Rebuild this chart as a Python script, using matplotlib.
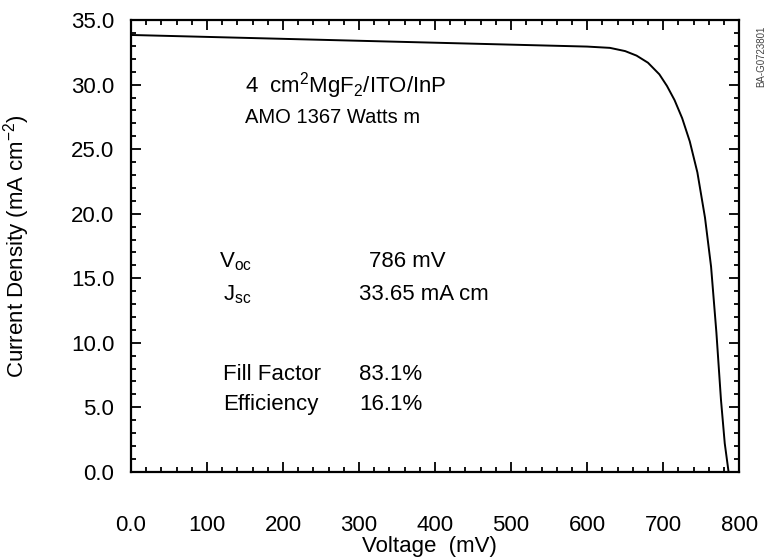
import numpy as np
import matplotlib.pyplot as plt
from matplotlib.ticker import MultipleLocator, FormatStrFormatter

plt.rcParams['font.family'] = ['Liberation Sans', 'DejaVu Sans']
plt.rcParams['mathtext.fontset'] = 'custom'
plt.rcParams['mathtext.rm'] = 'Liberation Sans'
plt.rcParams['mathtext.it'] = 'Liberation Sans'

# I-V curve (mV, mA/cm^2)
voltage = [0, 100, 200, 300, 400, 500, 600, 630, 650, 665, 680, 695,
           705, 715, 725, 735, 745, 755, 763, 770, 776, 781, 786]
current = [33.85, 33.7, 33.55, 33.4, 33.25, 33.1, 32.95, 32.85, 32.6, 32.25,
           31.7, 30.8, 29.9, 28.8, 27.4, 25.6, 23.2, 19.7, 15.9, 10.8,
           5.6, 2.2, 0.0]

x_ticks = [0, 100, 200, 300, 400, 500, 600, 700, 800]
x_tick_labels = ['0.0', '100', '200', '300', '400', '500', '600', '700', '800']

stat_names = ['V$_{oc}$', 'J$_{sc}$', 'Fill Factor', 'Efficiency']
stat_values = ['786 mV', '33.65 mA cm', '83.1%', '16.1%']

fig = plt.figure(figsize=(7.7, 5.59), dpi=100)
ax = fig.add_axes([0.170, 0.156, 0.790, 0.808])

ax.plot(voltage, current, color='black', lw=1.4)

ax.set_xlim(0, 800)
ax.set_ylim(0, 35)
ax.set_xticks(x_ticks)
ax.set_xticklabels(x_tick_labels)
ax.xaxis.set_minor_locator(MultipleLocator(20))
ax.yaxis.set_major_locator(MultipleLocator(5))
ax.yaxis.set_minor_locator(MultipleLocator(1))
ax.yaxis.set_major_formatter(FormatStrFormatter('%.1f'))

ax.tick_params(which='both', direction='in', top=True, right=True, width=1.3, labelsize=16)
ax.tick_params(which='major', length=7)
ax.tick_params(which='minor', length=3.5)
ax.tick_params(axis='x', which='major', pad=31)
ax.tick_params(axis='y', which='major', pad=12)
for s in ax.spines.values():
    s.set_linewidth(1.6)

ax.set_xlabel('Voltage  (mV)', fontsize=16)
ax.set_ylabel('Current Density (mA cm$^{-2}$)', fontsize=16)
ax.xaxis.set_label_coords(0.49, -0.143)
ax.yaxis.set_label_coords(-0.163, 0.50)

ax.text(150, 29.4, '4  cm$^{2}$MgF$_{2}$/ITO/InP', fontsize=16, va='baseline')
ax.text(150, 27.0, 'AMO 1367 Watts m', fontsize=14.5, va='baseline')

name_y = [15.87, 13.31, 7.11, 4.79]
name_x = [116, 121, 121, 121]
value_x = [313, 300, 300, 300]
for name, val, y, nx, vx in zip(stat_names, stat_values, name_y, name_x, value_x):
    ax.text(nx, y, name, fontsize=16, va='baseline')
    ax.text(vx, y, val, fontsize=16, va='baseline')

fig.text(0.989, 0.90, 'BA-G0723801', rotation=90, fontsize=7, color='#444444',
         ha='center', va='center')

fig.savefig('out.png', dpi=100)
